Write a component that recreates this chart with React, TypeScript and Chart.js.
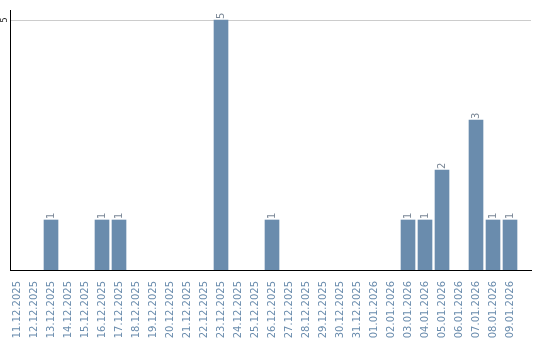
import React, { useEffect, useRef } from "react";
import { Chart, registerables } from "chart.js";

Chart.register(...registerables);

const categories = [
  "11.12.2025", "12.12.2025", "13.12.2025", "14.12.2025", "15.12.2025",
  "16.12.2025", "17.12.2025", "18.12.2025", "19.12.2025", "20.12.2025",
  "21.12.2025", "22.12.2025", "23.12.2025", "24.12.2025", "25.12.2025",
  "26.12.2025", "27.12.2025", "28.12.2025", "29.12.2025", "30.12.2025",
  "31.12.2025", "01.01.2026", "02.01.2026", "03.01.2026", "04.01.2026",
  "05.01.2026", "06.01.2026", "07.01.2026", "08.01.2026", "09.01.2026",
];
const counts = [0, 0, 1, 0, 0, 1, 1, 0, 0, 0, 0, 0, 5, 0, 0, 1, 0, 0, 0, 0, 0, 0, 0, 1, 1, 2, 0, 3, 1, 1];
const yTicks = [5];

const FONT = "'DejaVu Sans', Verdana, sans-serif";

export default function App() {
  const ref = useRef<HTMLCanvasElement | null>(null);

  useEffect(() => {
    document.body.style.margin = "0";
    const canvas = ref.current;
    if (!canvas) return;

    const overlay = {
      id: "overlay",
      afterDatasetsDraw(chart: any) {
        const ctx = chart.ctx;
        const meta = chart.getDatasetMeta(0);
        ctx.save();
        ctx.font = `10px ${FONT}`;
        ctx.fillStyle = "#7a8796";
        ctx.textAlign = "left";
        ctx.textBaseline = "middle";
        meta.data.forEach((bar: any, i: number) => {
          const v = counts[i];
          if (!v) return;
          ctx.save();
          ctx.translate(bar.x, bar.y - 1);
          ctx.rotate(-Math.PI / 2);
          ctx.fillText(String(v), 0, 0);
          ctx.restore();
        });
        const ys = chart.scales.y;
        ctx.font = `8px ${FONT}`;
        ctx.fillStyle = "#222";
        ctx.textAlign = "center";
        yTicks.forEach((t) => {
          const py = ys.getPixelForValue(t);
          ctx.save();
          ctx.translate(5, py);
          ctx.rotate(-Math.PI / 2);
          ctx.fillText(String(t), 0, 0);
          ctx.restore();
        });
        ctx.restore();
      },
    };

    const chart = new Chart(canvas, {
      type: "bar",
      data: {
        datasets: [
          {
            data: counts.map((v, i) => ({ x: i, y: v === 0 ? null : v })),
            backgroundColor: "#6a8cad",
            borderWidth: 0,
            barThickness: 14,
          },
        ],
      },
      options: {
        animation: false,
        responsive: false,
        maintainAspectRatio: false,
        layout: { padding: { top: 10, right: 9, left: 0, bottom: 0 } },
        plugins: {
          legend: { display: false },
          tooltip: { enabled: false },
        },
        scales: {
          x: {
            type: "linear",
            offset: false,
            min: -0.412,
            max: 30.235,
            grid: { display: false, drawTicks: false, offset: false },
            border: { display: true, color: "#000", width: 1 },
            afterBuildTicks: (s: any) => {
              s.ticks = categories.map((_, i) => ({ value: i }));
            },
            afterFit: (s: any) => {
              s.height = 70;
              s.paddingLeft = 0;
              s.paddingRight = 0;
            },
            ticks: {
              autoSkip: false,
              minRotation: 90,
              maxRotation: 90,
              padding: 11,
              color: "#6a8cad",
              font: { family: FONT, size: 10 },
              callback: (v: any) => categories[Math.round(Number(v))] ?? "",
            },
          },
          y: {
            min: 0,
            max: 5.2,
            grid: { display: true, color: "#cccccc", drawTicks: false },
            border: { display: true, color: "#000", width: 1 },
            afterBuildTicks: (s: any) => {
              s.ticks = yTicks.map((v) => ({ value: v }));
            },
            afterFit: (s: any) => {
              s.width = 10;
              s.paddingTop = 0;
              s.paddingBottom = 0;
            },
            ticks: { display: false },
          },
        },
      },
      plugins: [overlay],
    } as any);

    return () => chart.destroy();
  }, []);

  return (
    <div style={{ width: 540, height: 340 }}>
      <canvas ref={ref} width={540} height={340} style={{ display: "block" }} />
    </div>
  );
}
